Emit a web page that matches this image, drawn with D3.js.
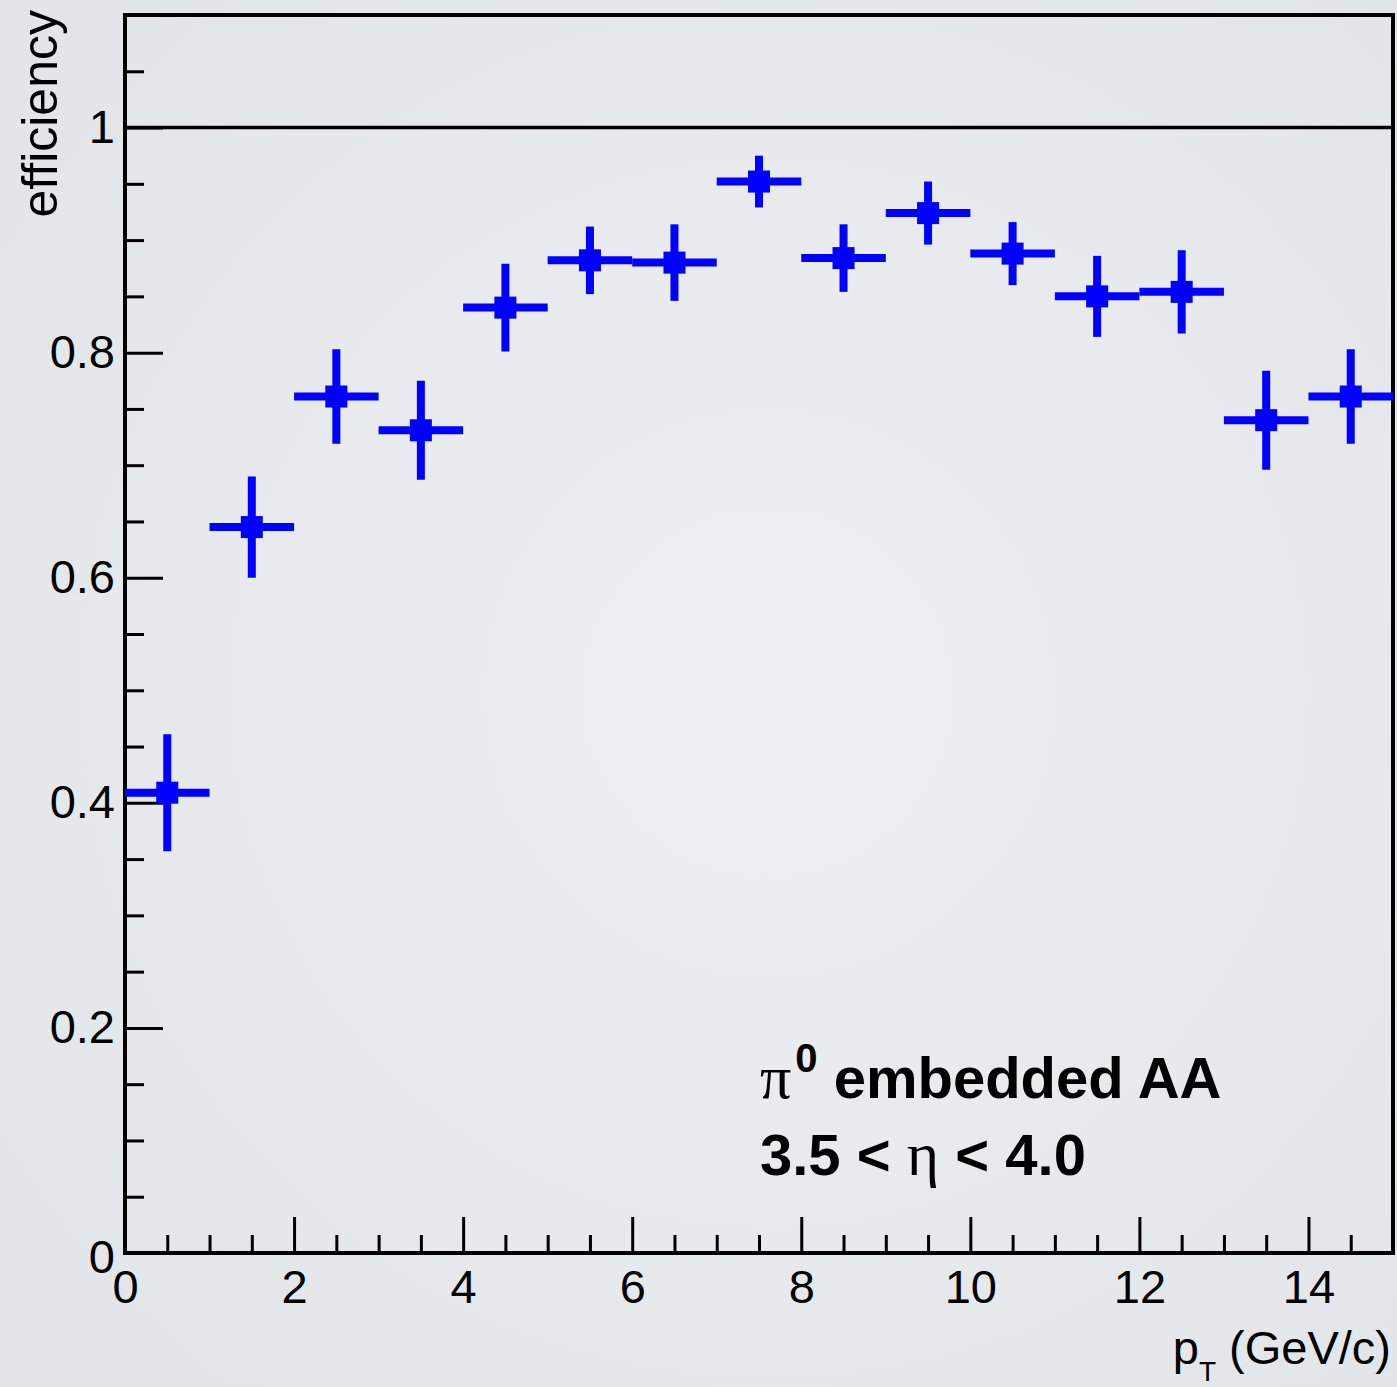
<!DOCTYPE html>
<html>
<head>
<meta charset="utf-8">
<script src="https://cdn.jsdelivr.net/npm/d3@7"></script>
<style>
  body { margin: 0; background: #e8eaed; }
  svg { display: block; }
  text { font-family: "Liberation Sans", Arial, Helvetica, sans-serif; fill: #000; }
</style>
</head>
<body>
<div class="chart"></div>
<script>
// bin centres (pT, GeV/c), efficiency and its error
var binCenters = [0.5, 1.5, 2.5, 3.5, 4.5, 5.5, 6.5, 7.5, 8.5, 9.5, 10.5, 11.5, 12.5, 13.5, 14.5]
var efficiency = [0.409, 0.645, 0.761, 0.731, 0.840, 0.882, 0.880, 0.952, 0.884, 0.924, 0.888, 0.850, 0.854, 0.740, 0.761]
var effError   = [0.052, 0.045, 0.042, 0.044, 0.039, 0.030, 0.034, 0.023, 0.030, 0.028, 0.028, 0.036, 0.037, 0.044, 0.042]
var binHalfWidth = 0.5

var xMajor = [0, 2, 4, 6, 8, 10, 12, 14]
var yMajor = [0, 0.2, 0.4, 0.6, 0.8, 1]

var width = 1397
var height = 1387
var margin = {left: 125, right: 4, top: 15, bottom: 134}

var svg = d3.select(".chart")
    .append("svg")
    .attr("width", width)
    .attr("height", height)

// soft keynote-ish background
var defs = svg.append("defs")
var grad = defs.append("radialGradient").attr("id", "bg").attr("cx", "55%").attr("cy", "50%").attr("r", "75%")
grad.append("stop").attr("offset", "0%").attr("stop-color", "#eef0f2")
grad.append("stop").attr("offset", "100%").attr("stop-color", "#e1e4e8")
svg.append("rect").attr("width", width).attr("height", height).attr("fill", "url(#bg)")

var x = d3.scaleLinear().domain([0, 15]).range([margin.left, width - margin.right])
var y = d3.scaleLinear().domain([0, 1.1]).range([height - margin.bottom, margin.top])

// y axis, ticks pointing inward (ROOT style)
var yAxis = svg.append("g")
    .attr("transform", "translate(" + x(0) + ",0)")
    .call(d3.axisLeft(y).tickValues(yMajor).tickSizeInner(-38).tickSizeOuter(0).tickPadding(10)
        .tickFormat(d => d === 0 ? "0" : d3.format("~g")(d)))
yAxis.select(".domain").remove()
yAxis.selectAll("line").attr("stroke", "#000").attr("stroke-width", 3)
yAxis.selectAll("text").style("font-size", "47px").attr("font-family", null)
yAxis.selectAll("text").filter(d => d === 0).attr("dy", "0.42em")

var yMinor = svg.append("g")
    .attr("transform", "translate(" + x(0) + ",0)")
    .call(d3.axisLeft(y).tickValues(d3.range(0, 1.1, 0.05).filter(v => Math.abs(v * 5 - Math.round(v * 5)) > 1e-6))
        .tickSizeInner(-19).tickSizeOuter(0).tickFormat(""))
yMinor.select(".domain").remove()
yMinor.selectAll("line").attr("stroke", "#000").attr("stroke-width", 3)

// x axis
var xAxis = svg.append("g")
    .attr("transform", "translate(0," + y(0) + ")")
    .call(d3.axisBottom(x).tickValues(xMajor).tickSizeInner(-36).tickSizeOuter(0).tickPadding(17))
xAxis.select(".domain").remove()
xAxis.selectAll("line").attr("stroke", "#000").attr("stroke-width", 3)
xAxis.selectAll("text").style("font-size", "47px").attr("font-family", null)

var xMinor = svg.append("g")
    .attr("transform", "translate(0," + y(0) + ")")
    .call(d3.axisBottom(x).tickValues(d3.range(0.5, 15, 0.5).filter(v => v % 2 !== 0))
        .tickSizeInner(-18).tickSizeOuter(0).tickFormat(""))
xMinor.select(".domain").remove()
xMinor.selectAll("line").attr("stroke", "#000").attr("stroke-width", 3)

// line at efficiency = 1
svg.append("line")
    .attr("x1", x(0)).attr("x2", x(15))
    .attr("y1", y(1)).attr("y2", y(1))
    .attr("stroke", "#000").attr("stroke-width", 3.5)

// frame
svg.append("rect")
    .attr("x", x(0)).attr("y", y(1.1))
    .attr("width", x(15) - x(0)).attr("height", y(0) - y(1.1))
    .attr("fill", "none").attr("stroke", "#000").attr("stroke-width", 4)

// data points with error bars
var pts = svg.append("g").selectAll("g")
    .data(binCenters.map((c, i) => ({c: c, v: efficiency[i], e: effError[i]})))
    .enter().append("g")

pts.append("line")
    .attr("x1", d => x(d.c - binHalfWidth)).attr("x2", d => x(d.c + binHalfWidth))
    .attr("y1", d => y(d.v)).attr("y2", d => y(d.v))
    .attr("stroke", "#0000ff").attr("stroke-width", 8)

pts.append("line")
    .attr("x1", d => x(d.c)).attr("x2", d => x(d.c))
    .attr("y1", d => y(d.v - d.e)).attr("y2", d => y(d.v + d.e))
    .attr("stroke", "#0000ff").attr("stroke-width", 8)

pts.append("rect")
    .attr("x", d => x(d.c) - 11).attr("y", d => y(d.v) - 11)
    .attr("width", 22).attr("height", 22)
    .attr("fill", "#0000ff")

// axis titles
svg.append("text")
    .attr("transform", "translate(57,10) rotate(-90)")
    .attr("text-anchor", "end")
    .style("font-size", "50px")
    .text("efficiency")

var xt = svg.append("text")
    .attr("x", 1391).attr("y", 1364)
    .attr("text-anchor", "end")
    .style("font-size", "47px")
xt.append("tspan").text("p")
xt.append("tspan").attr("dy", 17).style("font-size", "28px").text("T")
xt.append("tspan").attr("dy", -17).text(" (GeV/c)")

// label
var l1 = svg.append("text")
    .attr("x", 760).attr("y", 1098)
    .style("font-size", "58px").style("font-weight", "bold")
l1.append("tspan").style("font-family", "'Liberation Serif', serif").style("font-weight", "normal").style("font-size", "62px").text("π")
l1.append("tspan").attr("dx", 4).attr("dy", -26).style("font-size", "40px").text("0")
l1.append("tspan").attr("dy", 26).text(" embedded AA")

var l2 = svg.append("text")
    .attr("x", 760).attr("y", 1175)
    .style("font-size", "58px").style("font-weight", "bold")
l2.append("tspan").text("3.5 < ")
l2.append("tspan").style("font-family", "'Liberation Serif', serif").style("font-weight", "normal").style("font-size", "62px").text("η")
l2.append("tspan").text(" < 4.0")
</script>
</body>
</html>
